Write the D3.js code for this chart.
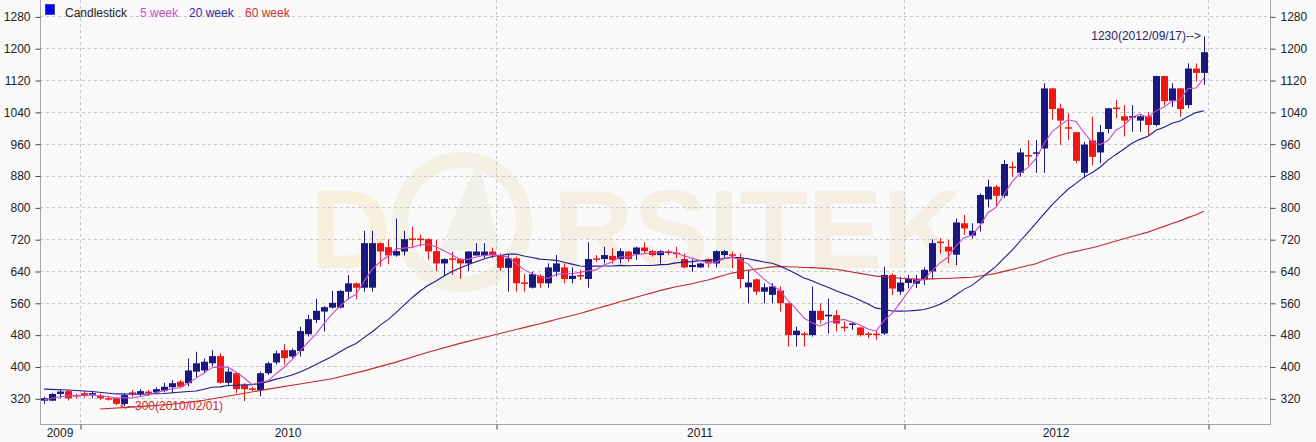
<!DOCTYPE html>
<html><head><meta charset="utf-8">
<script src="https://cdn.jsdelivr.net/npm/d3@7"></script>
<style>
html,body{margin:0;padding:0;background:#f9f9f9;}
svg{display:block;font-family:Arial,"Liberation Sans",sans-serif;}
</style></head><body>
<svg id="chart" width="1316" height="442"></svg>
<script>
// ---- weekly candles (one entry per week, oldest first) ----
const opens = [
314,314,331,338,327,333,329,327,319,320,
306,334,331,336,335,339,348,362,358,387,
390,408,426,359,383,353,344,341,383,410,
441,425,439,481,517,538,548,548,588,609,
598,598,710,700,679,689,721,721,720,690,
659,671,670,659,679,679,689,680,648,672,
611,598,628,609,638,649,620,629,620,671,
670,678,670,689,682,699,690,680,688,685,
670,650,649,670,659,680,681,672,599,619,
588,580,591,559,479,482,479,540,526,529,
499,505,498,482,482,483,630,588,610,608,
619,639,713,701,681,760,729,760,820,852,
829,902,887,931,935,948,1099,1049,1001,989,
887,968,938,997,1051,1029,1026,1018,1029,1007,
1130,1068,1099,1057,1149,1138];
const highs = [
324,333,341,340,331,338,338,331,324,321,
332,341,343,341,348,359,366,366,420,437,
420,441,433,395,387,358,349,387,412,440,
456,445,500,530,570,552,590,592,630,611,
741,741,712,720,772,741,751,732,722,718,
672,689,672,690,710,710,699,684,680,676,
632,638,632,659,680,659,649,643,712,680,
701,697,697,690,701,712,693,692,693,701,
684,670,661,672,692,693,689,684,643,621,
609,609,601,560,500,487,601,559,571,542,
513,510,499,487,492,651,634,626,630,630,
649,720,722,718,772,781,760,835,870,856,
919,915,948,969,969,1112,1100,1061,1036,990,
965,1028,1007,1050,1070,1057,1057,1032,1040,1131,
1131,1112,1100,1162,1162,1230];
const lows = [
306,313,320,314,320,322,320,316,314,303,
300,324,326,326,331,335,333,345,350,372,
383,400,357,350,333,313,338,325,379,405,
405,421,425,475,509,488,546,546,569,569,
588,588,651,657,676,679,699,701,668,640,
628,630,620,640,679,672,672,640,588,588,
588,596,598,598,626,609,609,617,598,663,
659,659,659,663,668,684,676,659,680,672,
647,638,648,649,649,672,647,596,559,580,
559,559,538,450,450,450,475,508,483,488,
488,492,475,471,467,479,580,580,596,597,
605,619,684,660,655,731,722,739,800,802,
823,877,877,906,887,887,1020,957,969,911,
873,906,911,986,1024,978,990,990,982,1003,
1057,1053,1028,1049,1116,1108];
const closes = [
320,331,337,320,326,326,333,320,318,306,
328,332,338,334,343,349,358,349,390,408,
412,426,359,387,343,343,342,383,408,433,
421,441,489,519,540,549,560,590,609,598,
710,710,689,679,690,720,719,718,689,659,
670,669,659,689,689,689,680,648,672,609,
608,632,609,649,659,620,628,627,670,669,
680,668,690,670,699,690,680,690,686,683,
649,655,659,659,690,690,679,620,611,588,
599,601,559,479,490,480,540,517,530,508,
497,508,479,480,479,630,596,611,620,619,
643,710,711,689,762,747,741,831,852,829,
909,899,938,928,938,1099,1047,1018,998,917,
958,927,989,1049,1047,1018,1029,1029,1007,1130,
1067,1099,1047,1149,1138,1190];

const ma5Lead  = [[0,316],[1,320],[2,324],[3,326]];
const ma20Lead = [[0,343],[3,341],[6,337],[9,331],[12,330],[15,332],[18,337]];
const ma60Lead = [[7,293],[12,299],[16,305],[20,315],[24,329],[28,343],[32,356],[36,369],[40,389],[44,411],[48,436],[52,458],[56,478],[58,488]];

const priceTicks = [320,400,480,560,640,720,800,880,960,1040,1120,1200,1280];
const yearLabels = ["2009","2010","2011","2012"];
const yearBreaks = [4.5,56.5,107.5,145.5];   // candle-index positions of the year separators
const peakDate = "2012/09/17";
const troughDate = "2010/02/01";
const legendItems = ["Candlestick","5 week","20 week","60 week"];

// ---- drawing ----
const svg = d3.select("#chart");
const L = 40, R = 1270, T = 0, B = 424;
const x = d3.scaleLinear().domain([-0.5,153.25]).range([L,R]);
const y = d3.scaleLinear().domain([320,1280]).range([398.3,16.4]);
const crisp = v => Math.round(v) + 0.5;

const UP = "#181880", DOWN = "#f01616";
const C5 = "#c84ac8", C20 = "#1c1c8c", C60 = "#c42a2a";

svg.append("rect").attr("width",1316).attr("height",442).attr("fill","#f9f9f9");

// watermark
const wm = svg.append("g").attr("font-weight","bold").attr("font-size",112);
wm.append("text").attr("x",310).attr("y",268).attr("fill","#f6f0dc").text("D");
wm.append("circle").attr("cx",462).attr("cy",222).attr("r",62).attr("fill","none").attr("stroke","#f3f1e4").attr("stroke-width",16);
wm.append("path").attr("d","M440,250 L478,160 L500,250 Z").attr("fill","#f0f1ea");
wm.append("text").attr("x",553).attr("y",268).attr("textLength",410).attr("lengthAdjust","spacingAndGlyphs")
  .attr("fill","#f5efe3").text("RSITEK");

// grid
svg.append("g").selectAll("line").data(priceTicks).join("line")
  .attr("x1",L).attr("x2",R).attr("y1",d=>crisp(y(d))).attr("y2",d=>crisp(y(d)))
  .attr("stroke","#c6c6c6").attr("stroke-dasharray","3,3");
svg.append("g").selectAll("line").data(yearBreaks).join("line")
  .attr("x1",d=>crisp(x(d))).attr("x2",d=>crisp(x(d))).attr("y1",T).attr("y2",B)
  .attr("stroke","#c6c6c6").attr("stroke-dasharray","3,3");

// frame
const frame = svg.append("g").attr("stroke","#a6a6a6").attr("fill","none");
frame.append("line").attr("x1",L+0.5).attr("x2",L+0.5).attr("y1",T).attr("y2",B+0.5);
frame.append("line").attr("x1",R+0.5).attr("x2",R+0.5).attr("y1",T).attr("y2",B+0.5);
frame.append("line").attr("x1",L).attr("x2",R+1).attr("y1",B+0.5).attr("y2",B+0.5);

// axes
function styleAxis(g){
  g.select(".domain").remove();
  g.attr("font-family","Arial, 'Liberation Sans', sans-serif").attr("font-size",12);
  g.selectAll("line").attr("stroke","#444");
  g.selectAll("text").attr("fill","#222");
}
svg.append("g").attr("transform",`translate(${L+0.5},0.5)`)
  .call(d3.axisLeft(y).tickValues(priceTicks).tickSize(5).tickPadding(5).tickFormat(d3.format("d")))
  .call(styleAxis);
svg.append("g").attr("transform",`translate(${R+0.5},0.5)`)
  .call(d3.axisRight(y).tickValues(priceTicks).tickSize(5).tickPadding(5).tickFormat(d3.format("d")))
  .call(styleAxis);
svg.append("g").attr("transform",`translate(0.5,${B+0.5})`)
  .call(d3.axisBottom(x).tickValues(yearBreaks).tickSize(5).tickFormat(""))
  .call(styleAxis);
const bounds = [-0.5, ...yearBreaks];
svg.append("g").selectAll("text").data(yearLabels).join("text")
  .attr("x",(d,i)=>(x(bounds[i])+x(bounds[i+1]))/2).attr("y",437)
  .attr("text-anchor","middle").attr("font-size",12).attr("fill","#222").text(d=>d);

// low annotation (drawn under the candles)
const loIdx = d3.minIndex(lows), hiIdx = d3.maxIndex(highs);
svg.append("text").attr("x",x(loIdx)-4).attr("y",y(lows[loIdx])+4)
  .attr("font-size",12).attr("fill","#cc2a2a").text(`<--${lows[loIdx]}(${troughDate})`);

// candles
const idx = d3.range(closes.length);
const cg = svg.append("g");
cg.selectAll("line").data(idx).join("line")
  .attr("x1",i=>crisp(x(i))).attr("x2",i=>crisp(x(i)))
  .attr("y1",i=>y(highs[i])).attr("y2",i=>y(lows[i]))
  .attr("stroke",i=>closes[i]>=opens[i]?UP:DOWN).attr("stroke-width",1);
cg.selectAll("rect").data(idx).join("rect")
  .attr("x",i=>Math.round(x(i))-3).attr("width",7)
  .attr("y",i=>{const t=y(Math.max(opens[i],closes[i])), b=y(Math.min(opens[i],closes[i])); return b-t<1.5 ? (t+b)/2-0.75 : t;})
  .attr("height",i=>Math.max(1.5, y(Math.min(opens[i],closes[i]))-y(Math.max(opens[i],closes[i]))))
  .attr("fill",i=>closes[i]>=opens[i]?UP:DOWN);

// moving averages
function movingAverage(n, lead){
  const pts = lead.slice();
  for(let i=n-1;i<closes.length;i++) pts.push([i, d3.mean(closes.slice(i-n+1,i+1))]);
  return pts;
}
const line = d3.line().x(d=>x(d[0])).y(d=>y(d[1]));
const lines = [[movingAverage(60,ma60Lead),C60],[movingAverage(20,ma20Lead),C20],[movingAverage(5,ma5Lead),C5]];
svg.append("g").selectAll("path").data(lines).join("path")
  .attr("d",d=>line(d[0])).attr("fill","none").attr("stroke",d=>d[1]).attr("stroke-width",1.1);

// high annotation
svg.append("text").attr("x",x(hiIdx)-3).attr("y",y(highs[hiIdx])+4)
  .attr("text-anchor","end").attr("font-size",12).attr("fill","#26266e").text(`${highs[hiIdx]}(${peakDate})-->`);

// legend
const lg = svg.append("g").attr("font-size",12);
lg.append("rect").attr("x",45.5).attr("y",4.5).attr("width",9).attr("height",10).attr("fill","#0000ff").attr("stroke","#1a1a60").attr("stroke-width",0.6);
const legX = [65,140,189,245], legC = ["#222",C5,"#2a2aa6","#c83232"];
lg.selectAll("text").data(legendItems).join("text")
  .attr("x",(d,i)=>legX[i]).attr("y",17).attr("fill",(d,i)=>legC[i]).text(d=>d);
</script>
</body></html>
